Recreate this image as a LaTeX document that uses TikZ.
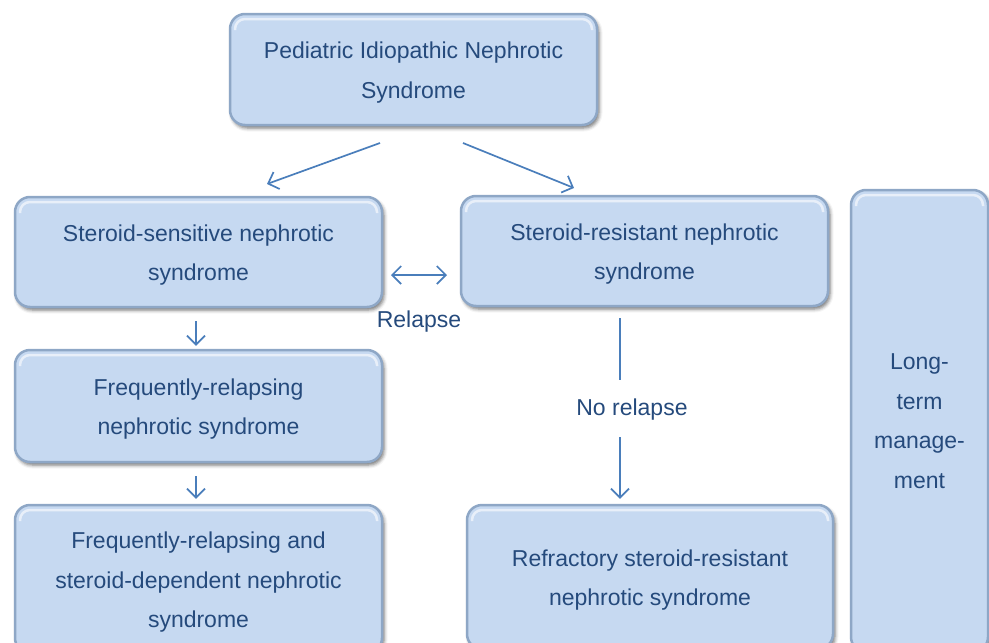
\documentclass[tikz,border=0pt]{standalone}
\usepackage{fontspec}
\setmainfont{Liberation Sans}
\usetikzlibrary{arrows.meta,calc,shadows.blur}
\definecolor{boxfill}{HTML}{C6D9F1}
\definecolor{boxedge}{HTML}{8EA7C6}
\definecolor{txtc}{HTML}{254A7C}
\definecolor{arrc}{HTML}{4A7EBB}
\newcommand\tup{\rule{0pt}{23pt}}
\begin{document}
\begin{tikzpicture}[x=1pt,y=-1pt,
  box/.style={rounded corners=15pt, fill=boxfill, draw=boxedge, line width=2.5pt,
    blur shadow={shadow xshift=2pt, shadow yshift=-3pt, shadow blur radius=3.5pt, shadow opacity=55},
    path picture={\draw[white, opacity=0.6, line width=2.5pt, rounded corners=10pt]
      ([xshift=5pt,yshift=-16pt]path picture bounding box.north west) --
      ([xshift=5pt,yshift=-5pt]path picture bounding box.north west) --
      ([xshift=-5pt,yshift=-5pt]path picture bounding box.north east) --
      ([xshift=-5pt,yshift=-16pt]path picture bounding box.north east);},
    align=center, text=txtc, font=\fontsize{23}{39.5}\selectfont, inner sep=0pt},
  lbl/.style={text=txtc, font=\fontsize{23}{28}\selectfont, inner sep=0pt},
  conn/.style={draw=arrc, line width=1.7pt},
  arw/.style={conn, -{Straight Barb[length=9pt,width=18pt,line width=1.7pt]}},
  darw/.style={conn, {Straight Barb[length=9pt,width=18pt,line width=1.7pt]}-{Straight Barb[length=9pt,width=18pt,line width=1.7pt]}}
]
\useasboundingbox (0,0) rectangle (989,643);
\clip (0,0) rectangle (989,643);

\node[box, minimum width=367pt, minimum height=111pt] (top) at (413.5,69.5) {\tup Pediatric Idiopathic Nephrotic\\Syndrome};
\node[box, minimum width=367pt, minimum height=110pt] (ssns) at (198.5,252) {\tup Steroid-sensitive nephrotic\\syndrome};
\node[box, minimum width=367pt, minimum height=110pt] (srns) at (644.5,251) {\tup Steroid-resistant nephrotic\\syndrome};
\node[box, minimum width=367pt, minimum height=112pt] (frns) at (198.5,406) {\tup Frequently-relapsing\\nephrotic syndrome};
\node[box, minimum width=367pt, minimum height=148pt] (frsd) at (198.5,579) {\tup Frequently-relapsing and\\steroid-dependent nephrotic\\syndrome};
\node[box, minimum width=366pt, minimum height=144pt] (refr) at (650,577) {\tup Refractory steroid-resistant\\nephrotic syndrome};
\node[box, minimum width=137pt, minimum height=462pt] (ltm) at (919.5,421) {Long-\\term\\manage-\\ment};

\node[lbl] (rel) at (419,322) {Relapse};
\node[lbl] (norel) at (632,410) {No relapse};

\coordinate (tl) at (380,143);
\coordinate (tlend) at (267,184);
\coordinate (tr) at (463,143);
\coordinate (trend) at (574,188);
\draw[arw] (tl) -- (tlend);
\draw[arw] (tr) -- (trend);

\draw[arw, shorten <=13pt, shorten >=3pt] (ssns.south -| 196,0) -- (frns.north -| 196,0);
\draw[arw, shorten <=13pt, shorten >=5pt] (frns.south -| 196,0) -- (frsd.north -| 196,0);

\coordinate (dl) at (391,275);
\coordinate (dr) at (447,275);
\draw[darw] (dl) -- (dr);

\coordinate (v1) at (620,380);
\coordinate (v2) at (620,437);
\draw[conn, shorten <=11pt] (srns.south -| v1) -- (v1);
\draw[arw, shorten >=5pt] (v2) -- (refr.north -| v2);
\end{tikzpicture}
\end{document}
